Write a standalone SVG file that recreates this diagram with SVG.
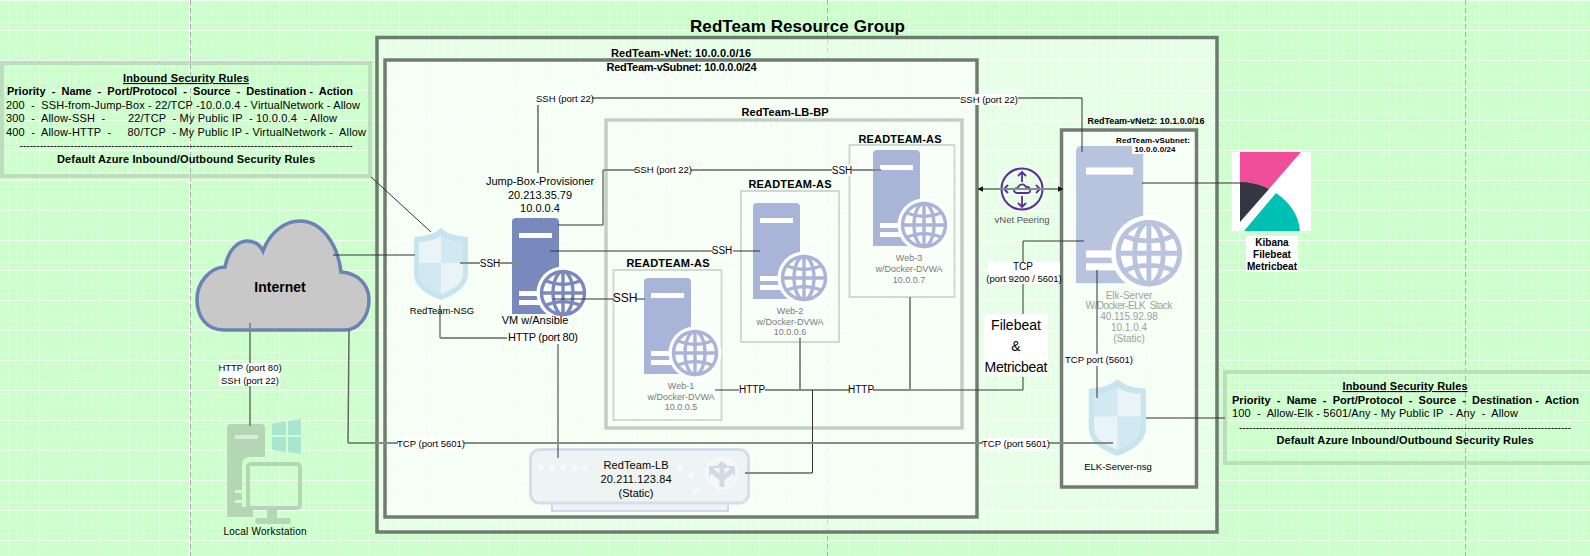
<svg xmlns="http://www.w3.org/2000/svg" width="1590" height="556" viewBox="0 0 1590 556">
<style>
text{font-family:"Liberation Sans",Arial,sans-serif;fill:#000;text-anchor:middle;white-space:pre}
.b{font-weight:bold}
.l{text-anchor:start}
.s8{font-size:8px}.s9{font-size:9px}.s95{font-size:9.5px}.s10{font-size:10px}.s11{font-size:11px}.s12{font-size:12px}
.g{fill:#7a7a7a;font-size:9px}
.gl{fill:#a0a0a0;font-size:10px}
.box{fill:#fff;fill-opacity:.5;stroke:#6f7b6f;stroke-width:3.5}
.box2{fill:#fff;fill-opacity:.6;stroke:#737c73;stroke-width:3.5}
.lbbp{fill:none;stroke:#c3cfc3;stroke-width:3.5}
.as{fill:#fff;fill-opacity:.3;stroke:#cdd6cd;stroke-width:1.8}
.rules{fill:none;stroke:#bedcbe;stroke-width:4}
.c1,.c2,.c3{fill:none}
.c1{stroke:#333;stroke-width:1}
.c2{stroke:#858e85;stroke-width:2}
.c3{stroke:#666;stroke-width:1.5}
.bg{fill:#fff}
</style>
<defs>
<pattern id="grid" width="30" height="30" patternUnits="userSpaceOnUse" patternTransform="translate(9 0)">
<rect width="30" height="30" fill="#ccffcc"/>
<path d="M7.500 0V30M15 0V30M22.500 0V30M0 7.500H30M0 15H30M0 22.500H30" stroke="#fff" stroke-opacity=".22" stroke-width="1" fill="none"/>
<path d="M.5 0V30M0 .5H30" stroke="#fff" stroke-opacity=".75" stroke-width="1" fill="none"/>
</pattern>
<marker id="arr" viewBox="0 0 10 10" refX="9" refY="5" markerWidth="6" markerHeight="6" markerUnits="userSpaceOnUse" orient="auto-start-reverse"><path d="M0 0L10 5L0 10Z" fill="#111"/></marker>
<g id="server">
<path d="M0 4Q0 0 4 0H43Q47 0 47 4V96H0Z" fill="currentColor"/>
<rect x="7" y="15" width="33" height="5" fill="#fff"/>
<rect x="7" y="73" width="28" height="5" fill="#fff"/>
<rect x="7" y="82" width="28" height="5" fill="#fff"/>
<circle cx="51" cy="75" r="26.500" fill="#fff"/>
<g fill="none" stroke="currentColor" stroke-width="3.4">
<circle cx="51" cy="75" r="21.500"/>
<ellipse cx="51" cy="75" rx="10" ry="21.500"/>
<path d="M51 54V96M30 75H72M34 63Q51 70 68 63M34 87Q51 80 68 87"/>
</g>
</g>
<g id="shield">
<path d="M27 0Q35 8 54 9V46Q54 62 27 72Q0 62 0 46V9Q19 8 27 0Z" fill="#c8e4ef"/>
<path d="M27 8Q20 13 5 14V35H27Z" fill="#e8f4f6"/>
<path d="M27 8Q34 13 49 14V35H27Z" fill="#d3e9f1"/>
<path d="M5 35V46Q5 58 27 66V35Z" fill="#d3e9f1"/>
<path d="M49 35V46Q49 58 27 66V35Z" fill="#e8f4f6"/>
</g>
</defs>
<rect width="1590" height="556" fill="url(#grid)"/>
<path d="M190.500 0V556M827.500 0V556M1465.500 0V556" stroke="#b0a8b0" stroke-dasharray="5 3" fill="none"/>

<g id="resource-group"><rect class="box" x="377" y="37.500" width="840" height="494.500"/><text class="b" x="797.500" y="32" font-size="17" textLength="215">RedTeam Resource Group</text></g>
<g id="vnet"><rect class="box2" x="385" y="60" width="592" height="457"/><text class="b s11" x="681" y="57" textLength="140">RedTeam-vNet: 10.0.0.0/16</text><text class="b s11" x="681.500" y="71" textLength="150">RedTeam-vSubnet: 10.0.0.0/24</text></g>
<g id="lb-bp"><rect class="lbbp" x="606" y="120" width="356" height="308"/><text class="b s11" x="785" y="116" textLength="87">RedTeam-LB-BP</text></g>
<g id="vnet2"><rect class="box2" x="1061.500" y="130" width="135" height="357"/><text class="b s9" x="1146" y="124" textLength="117">RedTeam-vNet2: 10.1.0.0/16</text></g>

<g id="rules-left">
<rect class="rules" x="2" y="63" width="368" height="113"/>
<text class="b s11" x="186" y="82" textLength="126" text-decoration="underline">Inbound Security Rules</text>
<text class="b s11 l" x="7" y="95" textLength="346">Priority  -  Name  -  Port/Protocol  -  Source  -  Destination -  Action</text>
<text class="s11 l" x="6" y="109" textLength="354">200  -  SSH-from-Jump-Box - 22/TCP -10.0.0.4 - VirtualNetwork - Allow</text>
<text class="s11 l" x="6" y="122" textLength="331">300  -  Allow-SSH  -       22/TCP  - My Public IP  - 10.0.0.4  - Allow</text>
<text class="s11 l" x="6" y="136" textLength="360">400  -  Allow-HTTP  -     80/TCP  - My Public IP - VirtualNetwork -  Allow</text>
<text class="s10" x="186" y="149" textLength="333">--------------------------------------------------------------------------------------------------</text>
<text class="b s11" x="186" y="163" textLength="258">Default Azure Inbound/Outbound Security Rules</text>
</g>

<g id="rules-right">
<rect class="rules" x="1225" y="372" width="367" height="91"/>
<text class="b s11" x="1405" y="390" textLength="125" text-decoration="underline">Inbound Security Rules</text>
<text class="b s11 l" x="1232" y="404" textLength="347">Priority  -  Name  -  Port/Protocol  -  Source  -  Destination -  Action</text>
<text class="s11 l" x="1232" y="417" textLength="286">100  -  Allow-Elk - 5601/Any - My Public IP  - Any  -  Allow</text>
<text class="s10" x="1405" y="431" textLength="332">---------------------------------------------------------------------------------------------------</text>
<text class="b s11" x="1405" y="444" textLength="257">Default Azure Inbound/Outbound Security Rules</text>
</g>

<g id="internet">
<path d="M224 330C205 330 197 315 197 299C197 283 210 267 225 267C228 250 238 241 247 241C254 241 260 245 263 251C270 232 285 221 300 221C322 221 338 245 341 272C358 273 369 285 369 300C369 317 358 330 345 330Z" fill="#c8c8c8" stroke="#6c81b5" stroke-width="3.500"/>
<text class="b" x="280" y="292" font-size="14">Internet</text>
</g>

<g id="workstation">
<path d="M231 424H261Q265 424 265 428V457H250Q242 457 242 465V507H253V517H227V428Q227 424 231 424Z" fill="#b4d6b4"/>
<rect x="235" y="435" width="23" height="4" fill="#d5ecd5"/>
<rect x="235" y="490" width="7" height="3" fill="#ccffcc"/><rect x="235" y="500" width="7" height="3" fill="#ccffcc"/>
<rect x="248" y="464" width="52" height="44" rx="3" fill="none" stroke="#b4d6b4" stroke-width="4"/>
<path d="M267 510H277V518H290Q292 524 288 524H258Q254 524 256 518H267Z" fill="#b4d6b4"/>
<path d="M272 424L286 421V435H272ZM288 421L301 419V435H288ZM272 437H286V452L272 450ZM288 437H301V454L288 452Z" fill="#a8e6cf"/>
<text class="s10" x="265" y="535" textLength="83">Local Workstation</text>
</g>

<g id="nsg"><use href="#shield" x="414" y="228"/><text class="s95" x="442" y="314">RedTeam-NSG</text></g>

<g id="jump-box">
<use href="#server" x="512" y="218" color="#7a89bd"/>
<text class="s11" x="540" y="185">Jump-Box-Provisioner</text>
<text class="s11" x="540" y="199">20.213.35.79</text>
<text class="s11" x="540" y="212">10.0.0.4</text>
<text class="s11" x="535" y="324">VM w/Ansible</text>
</g>

<g id="web-1">
<rect class="as" x="613.500" y="270" width="108" height="150"/>
<text class="b s11" x="668" y="267" textLength="83">READTEAM-AS</text>
<use href="#server" x="644" y="278" color="#a8b4d8"/>
<text class="g" x="681" y="389">Web-1</text><text class="g" x="681" y="400">w/Docker-DVWA</text><text class="g" x="681" y="410">10.0.0.5</text>
</g>
<g id="web-2">
<rect class="as" x="741" y="191" width="98" height="151"/>
<text class="b s11" x="790" y="188" textLength="83">READTEAM-AS</text>
<use href="#server" x="753" y="203" color="#a8b4d8"/>
<text class="g" x="790" y="314">Web-2</text><text class="g" x="790" y="325">w/Docker-DVWA</text><text class="g" x="790" y="335">10.0.0.6</text>
</g>
<g id="web-3">
<rect class="as" x="849.500" y="145" width="105" height="152"/>
<text class="b s11" x="900" y="143" textLength="83">READTEAM-AS</text>
<use href="#server" x="873" y="150" color="#a8b4d8"/>
<text class="g" x="909" y="261">Web-3</text><text class="g" x="909" y="272">w/Docker-DVWA</text><text class="g" x="909" y="283">10.0.0.7</text>
</g>

<g id="load-balancer">
<rect x="552" y="495" width="176" height="16" fill="#eef3f8" stroke="#d0d9ea" stroke-width="2"/>
<rect x="530.500" y="449.500" width="218" height="53.500" rx="9" fill="#eef3f3" stroke="#d5dfec" stroke-width="3"/>
<g fill="#f6f9f7"><circle cx="541" cy="467" r="3"/><circle cx="552" cy="467" r="3"/><circle cx="563" cy="467" r="3"/><circle cx="574" cy="467" r="3"/><circle cx="585" cy="467" r="3"/><circle cx="680" cy="467" r="3"/><circle cx="691" cy="475" r="3"/><circle cx="695" cy="491" r="3"/></g>
<circle cx="722" cy="473" r="17" fill="#f4f7f5"/>
<path d="M722 487V466M711 470L722 479L733 470" fill="none" stroke="#d2dae6" stroke-width="5"/>
<path d="M714 468L722 461L730 468ZM709 466V477L716 466ZM735 466V477L728 466Z" fill="#d2dae6"/>
<text class="s11" x="636" y="469" textLength="65">RedTeam-LB</text>
<text class="s11" x="636" y="483" textLength="71">20.211.123.84</text>
<text class="s11" x="636" y="497">(Static)</text>
</g>

<g id="peering">
<circle cx="1022" cy="189" r="20.500" fill="none" stroke="#5a2d9c" stroke-width="2"/>
<g fill="none" stroke="#5a2d9c" stroke-width="1.800">
<path d="M1017 193H1028Q1031 192 1030 189Q1029 186 1026 187Q1024 183 1020 185Q1018 186 1018 188Q1014 188 1014 191Q1015 193 1017 193Z"/>
<path d="M1022 182V172M1018 176L1022 172L1026 176M1022 196V207M1018 203L1022 207L1026 203M1012 189H1004M1008 185L1004 189L1008 193M1032 189H1040M1036 185L1040 189L1036 193"/>
</g>
<text class="s95" x="1022" y="223" style="fill:#555">vNet Peering</text>
</g>

<g id="filebeat">
<rect class="bg" x="984" y="314" width="64" height="62"/>
<text x="1016" y="330" font-size="14">Filebeat</text><text x="1016" y="351" font-size="14">&amp;</text><text x="1016" y="372" font-size="14" textLength="63">Metricbeat</text>
</g>

<g id="elk-server">
<use href="#server" transform="translate(1076 146) scale(1.43)" color="#b8c4de"/>
<rect class="bg" x="1122" y="136" width="62" height="9"/><rect class="bg" x="1132" y="145" width="45" height="9"/>
<text class="b s8" x="1153" y="143" textLength="74">RedTeam-vSubnet:</text>
<text class="b s8" x="1155" y="152" textLength="41">10.0.0.0/24</text>
<text class="gl" x="1129" y="299">Elk-Server</text><text class="gl" x="1129" y="309" textLength="87">W/Docker-ELK  Stack</text><text class="gl" x="1129" y="320">40.115.92.98</text><text class="gl" x="1129" y="331">10.1.0.4</text><text class="gl" x="1129" y="342">(Static)</text>
</g>

<g id="elk-nsg"><use href="#shield" transform="translate(1146 379) scale(-1.06 1.07)"/><text class="s95" x="1118" y="470">ELK-Server-nsg</text></g>

<g id="kibana">
<rect class="bg" x="1232" y="152" width="79" height="79"/>
<path d="M1240 152H1301L1269 189Q1257 182 1240 182Z" fill="#f04e98"/>
<path d="M1240 182Q1257 182 1269 189L1240 222Z" fill="#343741"/>
<path d="M1276 193Q1298 208 1300 231H1244Z" fill="#00bfb3"/>
<rect class="bg" x="1246" y="236" width="52" height="36"/>
<text class="b s10" x="1272" y="246">Kibana</text><text class="b s10" x="1272" y="258">Filebeat</text><text class="b s10" x="1272" y="270">Metricbeat</text>
</g>

<g id="connectors">
<path class="c1" d="M371 177L431 232"/>
<path class="c1" d="M333 255H415"/>
<path class="c2" d="M460 263H520"/>
<path class="c1" d="M440 305V338"/><path class="c2" d="M440 338H507"/>
<path class="c1" d="M558 344V458"/>
<path class="c3" d="M538 173V105"/><path class="c2" d="M592 98H1082"/><path class="c1" d="M1082 98V152"/>
<path class="c1" d="M558 225H603V170"/><path class="c2" d="M603 170H881"/>
<path class="c1" d="M550 251H760"/>
<path class="c1" d="M553 299H645"/>
<path class="c1" d="M715 390H745"/><path class="c2" d="M745 390H910"/><path class="c1" d="M910 390H1023V377"/>
<path class="c2" d="M800 338V390"/><path class="c2" d="M910 297V390"/>
<path class="c1" d="M812.500 390V473"/><path class="c2" d="M812 473H745"/>
<path class="c1" d="M1023 314V241H1084"/>
<path class="c1" d="M1142 183H1248"/>
<path class="c1" d="M1097 270V398"/>
<path class="c2" d="M978 189H1063" marker-start="url(#arr)" marker-end="url(#arr)"/>
<path class="c2" d="M250 323V426"/>
<path class="c3" d="M349 330L348 443"/><path class="c2" d="M348 443H1113"/>
<path class="c1" d="M1146 418H1225"/>

<rect class="bg" x="220" y="363" width="60" height="23"/><text class="s95" x="250" y="371">HTTP (port 80)</text><text class="s95" x="250" y="384">SSH (port 22)</text>
<rect class="bg" x="480" y="257" width="20" height="11"/><text class="s10" x="490" y="267">SSH</text>
<rect class="bg" x="507" y="331" width="72" height="13"/><text class="s11" x="543" y="341" textLength="70">HTTP (port 80)</text>
<rect class="bg" x="537" y="94" width="55" height="11"/><text class="s95" x="565" y="102">SSH (port 22)</text>
<rect class="bg" x="960" y="94" width="58" height="11"/><text class="s95" x="989" y="103">SSH (port 22)</text>
<rect class="bg" x="635" y="165" width="56" height="11"/><text class="s95" x="663" y="173">SSH (port 22)</text>
<rect class="bg" x="832" y="165" width="20" height="11"/><text class="s10" x="842" y="174">SSH</text>
<rect class="bg" x="713" y="246" width="20" height="11"/><text class="s10" x="722" y="254">SSH</text>
<rect class="bg" x="614" y="293" width="22" height="12"/><text class="s12" x="625" y="302">SSH</text>
<rect class="bg" x="739" y="385" width="26" height="10"/><text class="s10" x="752" y="393">HTTP</text>
<rect class="bg" x="849" y="385" width="24" height="10"/><text class="s10" x="861" y="393">HTTP</text>
<rect class="bg" x="398" y="438" width="66" height="11"/><text class="s95" x="431" y="447">TCP (port 5601)</text>
<rect class="bg" x="983" y="438" width="66" height="11"/><text class="s95" x="1016" y="447">TCP (port 5601)</text>
<rect class="bg" x="988" y="262" width="72" height="22"/><text class="s10" x="1023" y="270">TCP</text><text class="s95" x="1024" y="282">(port 9200 / 5601)</text>
<rect class="bg" x="1066" y="354" width="66" height="12"/><text class="s95" x="1099" y="363">TCP port (5601)</text>
</g>
</svg>
